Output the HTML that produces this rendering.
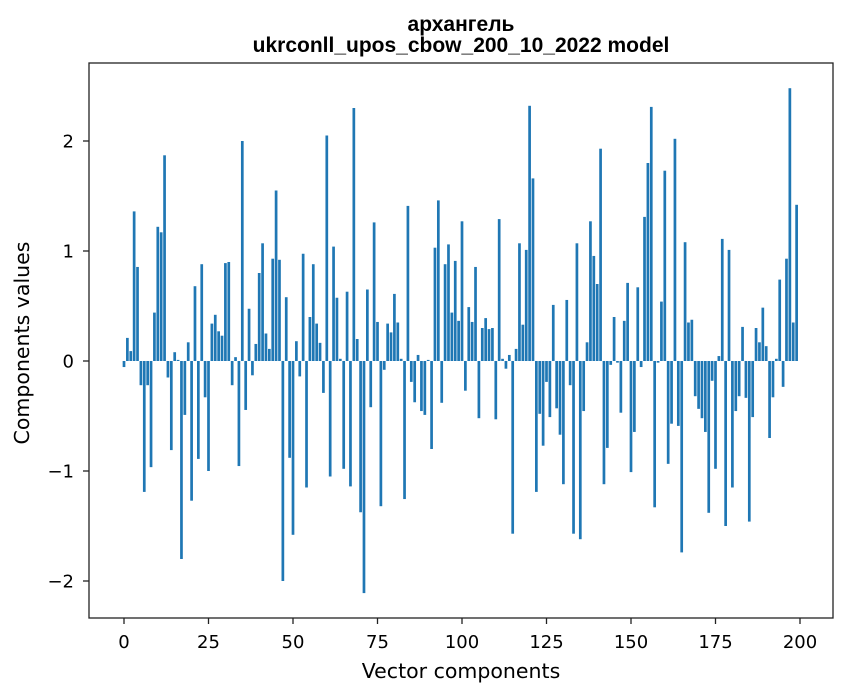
<!DOCTYPE html>
<html><head><meta charset="utf-8"><style>
html,body{margin:0;padding:0;background:#fff;}
svg{display:block;font-family:"DejaVu Sans","Liberation Sans",sans-serif;}
</style></head><body>
<svg id="chart" width="847" height="696" viewBox="0 0 847 696" xmlns="http://www.w3.org/2000/svg">
<text x="461" y="31" text-anchor="middle" font-size="21" font-weight="bold" font-family="Liberation Sans, sans-serif">архангель</text>
<text x="461" y="52" text-anchor="middle" font-size="21" font-weight="bold" font-family="Liberation Sans, sans-serif">ukrconll_upos_cbow_200_10_2022 model</text>
<g id="bars"></g>
<g id="xticks"></g>
<g id="yticks"></g>
<rect x="89" y="63" width="744" height="555" fill="none" stroke="#222" stroke-width="1.3"/>
<text x="461" y="678" text-anchor="middle" font-size="20.5">Vector components</text>
<text transform="translate(29,343) rotate(-90)" text-anchor="middle" font-size="20.5">Components values</text>
</svg>
<script>
const values = [-0.055,0.21,0.09,1.36,0.855,-0.22,-1.19,-0.22,-0.965,0.44,
1.22,1.17,1.87,-0.15,-0.81,0.08,0.01,-1.80,-0.49,0.17,
-1.27,0.68,-0.89,0.88,-0.33,-1.0,0.34,0.42,0.27,0.23,
0.89,0.90,-0.22,0.035,-0.955,2.0,-0.445,0.475,-0.13,0.155,
0.80,1.07,0.25,0.11,0.93,1.55,0.92,-2.0,0.58,-0.88,
-1.58,0.18,-0.14,0.975,-1.15,0.40,0.88,0.34,0.165,-0.29,
2.05,-1.05,1.04,0.575,0.02,-0.98,0.63,-1.14,2.30,0.20,
-1.375,-2.11,0.65,-0.42,1.26,0.355,-1.32,-0.08,0.34,0.26,
0.61,0.35,0.02,-1.255,1.41,-0.19,-0.375,0.055,-0.455,-0.49,
0.01,-0.80,1.03,1.46,-0.38,0.88,1.06,0.44,0.91,0.365,
1.27,-0.27,0.49,0.355,0.855,-0.52,0.30,0.39,0.29,0.30,
-0.53,1.29,0.02,-0.07,0.055,-1.57,0.11,1.07,0.33,1.01,
2.32,1.66,-1.19,-0.48,-0.77,-0.19,-0.51,0.51,-0.43,-0.67,
-1.12,0.555,-0.22,-1.57,1.07,-1.62,-0.455,0.17,1.27,0.955,
0.70,1.93,-1.12,-0.79,-0.035,0.40,-0.015,-0.47,0.365,0.71,
-1.01,-0.645,0.67,-0.055,1.31,1.80,2.31,-1.33,-0.015,0.54,
1.73,-0.935,-0.57,2.02,-0.59,-1.74,1.08,0.35,0.375,-0.32,
-0.435,-0.52,-0.645,-1.38,-0.18,-0.98,0.045,1.11,-1.50,1.01,
-1.15,-0.455,-0.32,0.31,-0.335,-1.46,-0.51,0.30,0.17,0.485,
0.135,-0.70,-0.33,0.02,0.74,-0.235,0.93,2.48,0.35,1.42];
const xTickValues = [0,25,50,75,100,125,150,175,200];
const yTickValues = [-2,-1,0,1,2];
const yTickLabels = ["\u22122","\u22121","0","1","2"];

const NS = "http://www.w3.org/2000/svg";
function xScale(v){ return 124 + 3.38*v; }
function yScale(v){ return 361 - 110*v; }
const bw = 3.38*0.8;
const barsG = document.getElementById('bars');
values.forEach((v,i)=>{
  const r = document.createElementNS(NS,'rect');
  
  
  const y0 = yScale(0), y1 = yScale(v);
  r.setAttribute('x', xScale(i)-bw/2);
  r.setAttribute('y', Math.min(y0,y1));
  r.setAttribute('width', bw);
  r.setAttribute('height', Math.abs(y1-y0));
  r.setAttribute('fill', '#1f77b4');
  barsG.appendChild(r);
});
const xg = document.getElementById('xticks');
xTickValues.forEach(t=>{
  const l = document.createElementNS(NS,'line');
  
  
  l.setAttribute('x1', xScale(t)); l.setAttribute('x2', xScale(t));
  l.setAttribute('y1', 618); l.setAttribute('y2', 624);
  l.setAttribute('stroke', '#222'); l.setAttribute('stroke-width', '1.3');
  xg.appendChild(l);
  const tx = document.createElementNS(NS,'text');
  
  
  tx.setAttribute('x', xScale(t)); tx.setAttribute('y', 648);
  tx.setAttribute('text-anchor', 'middle'); tx.setAttribute('font-size', '18');
  tx.textContent = String(t);
  xg.appendChild(tx);
});
const yg = document.getElementById('yticks');
yTickValues.forEach((t,i)=>{
  const l = document.createElementNS(NS,'line');
  
  
  l.setAttribute('x1', 83); l.setAttribute('x2', 89);
  l.setAttribute('y1', yScale(t)); l.setAttribute('y2', yScale(t));
  l.setAttribute('stroke', '#222'); l.setAttribute('stroke-width', '1.3');
  yg.appendChild(l);
  const tx = document.createElementNS(NS,'text');
  
  
  tx.setAttribute('x', 74); tx.setAttribute('y', yScale(t)+6.5);
  tx.setAttribute('text-anchor', 'end'); tx.setAttribute('font-size', '18');
  tx.textContent = yTickLabels[i];
  yg.appendChild(tx);
});
</script>
</body></html>
